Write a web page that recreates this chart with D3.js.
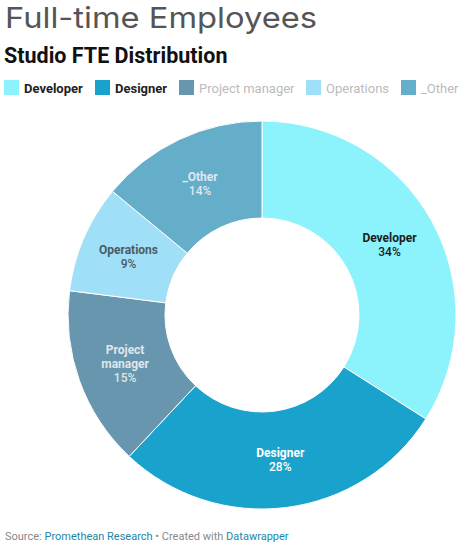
<!DOCTYPE html>
<html><head><meta charset="utf-8">
<script src="https://cdn.jsdelivr.net/npm/d3@7"></script>
<style>
body{margin:0;background:#fff;}
svg{display:block;}
</style></head>
<body>
<svg id="c" width="469" height="547"></svg>
<script>
const categories = ["Developer","Designer","Project manager","Operations","_Other"];
const values = [34, 28, 15, 9, 14];
const colors = ["#8cf2fc","#19a2cb","#6896ae","#a0dff8","#65aec9"];
const labelColors = ["#1d1d1d","#ffffff","#dfe6ea","#4c5b66","#dfe8ee"];
const legendTextColors = ["#222","#222","#bbbbbb","#bbbbbb","#bbbbbb"];
const legendWeights = [700,700,400,400,400];

const svg = d3.select("#c");
svg.append("text").attr("x",5).attr("y",28)
  .attr("font-family","Inter, 'Open Sans', sans-serif").attr("font-weight",400)
  .attr("font-size",29).attr("fill","#555")
  .attr("textLength",312).attr("lengthAdjust","spacingAndGlyphs")
  .text("Full-time Employees");
svg.append("text").attr("x",4).attr("y",63)
  .attr("font-family","Roboto, sans-serif").attr("font-weight",700)
  .attr("font-size",21.5).attr("fill","#111")
  .text("Studio FTE Distribution");

// legend
const legendX = [4, 95, 179, 306, 401];
const lg = svg.append("g").selectAll("g").data(categories).join("g")
  .attr("transform",(d,i)=>`translate(${legendX[i]},80)`);
lg.append("rect").attr("width",15).attr("height",15).attr("fill",(d,i)=>colors[i]);
lg.append("text").attr("x",20).attr("y",12.5)
  .attr("font-family","Roboto, sans-serif").attr("font-size",13)
  .attr("font-weight",(d,i)=>legendWeights[i])
  .attr("fill",(d,i)=>legendTextColors[i]).text(d=>d);

// pie
const cx = 262, cy = 315, R = 194, r = 97;
const pie = d3.pie().sort(null).value(d=>d.v);
const data = categories.map((c,i)=>({c, v: values[i], i}));
const arcs = pie(data);
const arc = d3.arc().innerRadius(r).outerRadius(R);
const g = svg.append("g").attr("transform",`translate(${cx},${cy})`);
g.selectAll("path").data(arcs).join("path")
  .attr("d",arc).attr("fill",d=>colors[d.data.i])
  .attr("stroke","#fff").attr("stroke-width",1);

const total = d3.sum(values);
const lab = g.selectAll("g.lab").data(arcs).join("g").attr("class","lab")
  .attr("transform",d=>`translate(${arc.centroid(d)})`);
lab.each(function(d){
  const el = d3.select(this);
  const words = d.data.c === "Project manager" ? ["Project","manager"] : [d.data.c];
  const lines = words.concat([Math.round(d.data.v/total*100)+"%"]);
  const lh = 14;
  const y0 = -(lines.length-1)*lh/2;
  lines.forEach((t,k)=>{
    el.append("text").attr("x",0).attr("y",y0+k*lh).attr("dy","0.35em")
      .attr("text-anchor","middle")
      .attr("font-family","Roboto, sans-serif").attr("font-size",12)
      .attr("font-weight", k<lines.length-1 ? 700 : 500)
      .attr("fill",labelColors[d.data.i]).text(t);
  });
});

// footer
const f = svg.append("text").attr("x",5).attr("y",540)
  .attr("font-family","Roboto, sans-serif").attr("font-size",11).attr("fill","#888");
f.append("tspan").text("Source: ");
f.append("tspan").attr("fill","#1d86a8").text("Promethean Research");
f.append("tspan").text(" • Created with ");
f.append("tspan").attr("fill","#1d86a8").text("Datawrapper");
</script>
</body></html>
